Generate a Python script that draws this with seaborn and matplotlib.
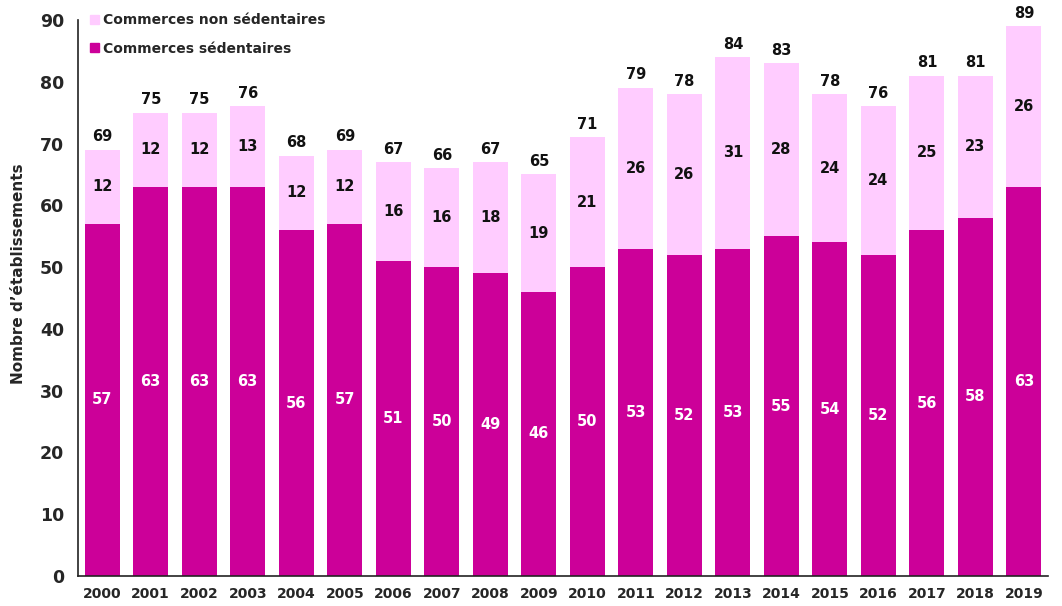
import numpy as np
import pandas as pd
import seaborn as sns
import matplotlib.pyplot as plt
from matplotlib.patches import Patch

years = [str(y) for y in range(2000, 2020)]
sedentaires = [57, 63, 63, 63, 56, 57, 51, 50, 49, 46, 50, 53, 52, 53, 55, 54, 52, 56, 58, 63]
non_sedentaires = [12, 12, 12, 13, 12, 12, 16, 16, 18, 19, 21, 26, 26, 31, 28, 24, 24, 25, 23, 26]

dark = '#CC0099'
light = '#FFCCFF'

sns.set_style('white')
plt.rcParams['font.family'] = ['DejaVu Sans']
plt.rcParams['font.weight'] = 'bold'

df = pd.DataFrame({'annee': years, 'sed': sedentaires, 'non_sed': non_sedentaires})
df['total'] = df['sed'] + df['non_sed']

fig = plt.figure(figsize=(10.62, 6.06), dpi=100)
ax = fig.add_axes([0.0734, 0.0495, 0.9136, 0.9175])

sns.barplot(data=df, x='annee', y='total', color=light, width=0.72, saturation=1,
            linewidth=0, ax=ax)
sns.barplot(data=df, x='annee', y='sed', color=dark, width=0.72, saturation=1,
            linewidth=0, ax=ax)

# labels
ax.bar_label(ax.containers[0], labels=[str(v) for v in df['total']], padding=4,
             fontsize=10.5, fontweight='bold', color='#111111')
ax.bar_label(ax.containers[1], labels=[str(v) for v in df['sed']], label_type='center',
             fontsize=10.5, fontweight='bold', color='white')
for i, (s, n) in enumerate(zip(df['sed'], df['non_sed'])):
    ax.text(i, s + n / 2, str(n), ha='center', va='center', fontsize=10.5,
            fontweight='bold', color='#111111')

ax.set_xlim(-0.5, 19.5)
ax.set_ylim(0, 90)
ax.set_yticks(np.arange(0, 91, 10))
ax.set_xticks(np.arange(-0.5, 20, 1), minor=True)
ax.tick_params(axis='x', which='major', length=0, labelsize=10, pad=8)
ax.tick_params(axis='x', which='minor', length=8, direction='inout', width=1, color='#222222')
ax.tick_params(axis='y', length=8, direction='inout', width=1, labelsize=12.5, pad=6, color='#222222')
for lab in ax.get_xticklabels() + ax.get_yticklabels():
    lab.set_fontweight('bold')
ax.set_xlabel('')
ax.set_ylabel("Nombre d’établissements", fontsize=11, fontweight='bold')
ax.yaxis.set_label_coords(-0.054, 0.543)

sns.despine(ax=ax)
for sp in ['left', 'bottom']:
    ax.spines[sp].set_color('#222222')
    ax.spines[sp].set_linewidth(1.2)

handles = [Patch(color=light, label='Commerces non sédentaires'),
           Patch(color=dark, label='Commerces sédentaires')]
ax.legend(handles=handles, loc='upper left', bbox_to_anchor=(0.0, 1.035), frameon=False,
          handlelength=0.6, handleheight=0.6, handletextpad=0.3, labelspacing=1.05,
          prop={'size': 10, 'weight': 'bold'})

fig.savefig('out.png', dpi=100)
